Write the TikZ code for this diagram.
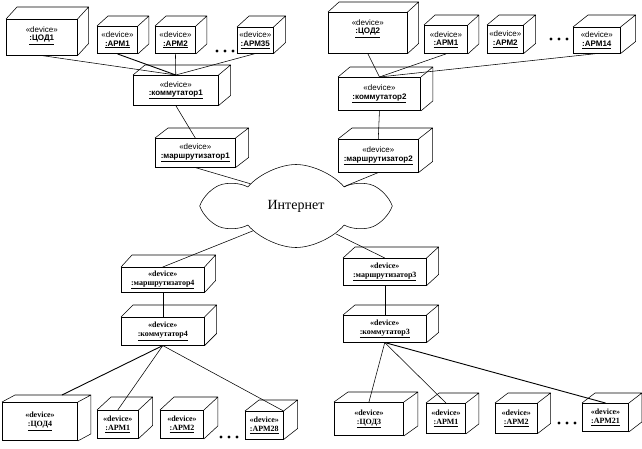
\documentclass[tikz,border=0pt]{standalone}
\usepackage{fontspec}
\setmainfont{Liberation Serif}
\setsansfont{Liberation Sans}
\usepackage{tikz}
\usetikzlibrary{
	positioning,
	shapes.symbols
}
\newcommand{\devlabel}[1]{«device»\\\underline{\textbf{#1}}}

\begin{document}
\begin{tikzpicture}[
		x=1pt, y=-1pt,
		line width=0.55pt,
		device/.style={
			draw,
			fill=white,
			anchor=north west,
			inner sep=0pt,
			align=center
		},
		topdev/.style={
			device,
			font=\sffamily\fontsize{8}{8.5}\selectfont
		},
		botdev/.style={
			device,
			font=\rmfamily\bfseries\fontsize{8}{9}\selectfont
		},
		toptext/.style={
			anchor=north,
			yshift=-4pt,
			align=center,
			font=\sffamily\fontsize{8}{8.5}\selectfont
		},
		heavy/.style={line width=0.9pt}
		]
		\useasboundingbox (0,0) rectangle (642,448);
		
		% Internet
		\node[cloud, draw, cloud puffs=6, cloud puff arc=100, aspect=2.1, inner sep=0pt,
		      minimum width=177pt, minimum height=83pt,
		      font=\rmfamily\fontsize{14}{16}\selectfont] (net) at (296,206) {Интернет};
		
		% Site 1
		\node[topdev, minimum width=71pt, minimum height=36pt,
		      label={[toptext]north:\devlabel{:ЦОД1}}] (cod1) at (6,19) {};
		\node[topdev, heavy, minimum width=40pt, minimum height=27pt] (arm1a) at (97,26) {\devlabel{:АРМ1}};
		\node[topdev, heavy, minimum width=40pt, minimum height=27pt] (arm2a) at (155,26) {\devlabel{:АРМ2}};
		\node[topdev, minimum width=36pt, minimum height=26pt] (arm35) at (237,27) {\devlabel{:АРМ35}};
		\node[topdev, minimum width=85pt, minimum height=30pt] (kom1) at (133,75) {\devlabel{:коммутатор1}};
		\node[topdev, minimum width=80pt, minimum height=29pt] (rt1) at (155,138) {\devlabel{:маршрутизатор1}};
		
		% Site 2
		\node[topdev, minimum width=79pt, minimum height=41pt,
		      label={[toptext]north:\devlabel{:ЦОД2}}] (cod2) at (328,12) {};
		\node[topdev, heavy, minimum width=43pt, minimum height=28pt] (arm1b) at (424,25) {\devlabel{:АРМ1}};
		\node[topdev, minimum width=36pt, minimum height=28pt] (arm2b) at (487,25) {\devlabel{:АРМ2}};
		\node[topdev, minimum width=47pt, minimum height=26pt] (arm14) at (573,27) {\devlabel{:АРМ14}};
		\node[topdev, heavy, minimum width=82pt, minimum height=33pt] (kom2) at (338,77) {\devlabel{:коммутатор2}};
		\node[topdev, minimum width=80pt, minimum height=33pt] (rt2) at (338,139) {\devlabel{:маршрутизатор2}};
		
		% Site 4
		\node[botdev, minimum width=83pt, minimum height=25pt] (rt4) at (121,267) {\devlabel{:маршрутизатор4}};
		\node[botdev, minimum width=83pt, minimum height=28pt] (kom4) at (121,317) {\devlabel{:коммутатор4}};
		\node[botdev, heavy, minimum width=75pt, minimum height=38pt] (cod4) at (2,402) {\devlabel{:ЦОД4}};
		\node[botdev, minimum width=41pt, minimum height=28pt] (arm1c) at (97,410) {\devlabel{:АРМ1}};
		\node[botdev, heavy, minimum width=43pt, minimum height=28pt] (arm2c) at (160,410) {\devlabel{:АРМ2}};
		\node[botdev, minimum width=38pt, minimum height=28pt] (arm28) at (245,411) {\devlabel{:АРМ28}};
		
		% Site 3
		\node[botdev, minimum width=83pt, minimum height=27pt] (rt3) at (343,258) {\devlabel{:маршрутизатор3}};
		\node[botdev, minimum width=83pt, minimum height=27pt] (kom3) at (343,315) {\devlabel{:коммутатор3}};
		\node[botdev, heavy, minimum width=69pt, minimum height=33pt] (cod3) at (334,402) {\devlabel{:ЦОД3}};
		\node[botdev, heavy, minimum width=39pt, minimum height=30pt] (arm1d) at (426,403) {\devlabel{:АРМ1}};
		\node[botdev, minimum width=42pt, minimum height=30pt] (arm2d) at (495,403) {\devlabel{:АРМ2}};
		\node[botdev, heavy, minimum width=46pt, minimum height=28pt] (arm21) at (582,403) {\devlabel{:АРМ21}};
		
		% Depth of the boxes
		\foreach \n/\dx/\dy in {cod1/11/12, arm1a/11/10, arm2a/11/10, arm35/12/11,
		                        kom1/12/10, rt1/13/10,
		                        cod2/11/10, arm1b/11/10, arm2b/12/10, arm14/15/12,
		                        kom2/12/10, rt2/14/11,
		                        rt4/11/12, kom4/12/12, cod4/13/7, arm1c/14/13,
		                        arm2c/14/13, arm28/14/11,
		                        rt3/12/11, kom3/12/10, cod3/14/10, arm1d/13/10,
		                        arm2d/13/10, arm21/13/10}
		\draw (\n.north west) -- ++(\dx,-\dy) -| ([shift={(\dx,-\dy)}]\n.south east) -- (\n.south east)
		      ([shift={(\dx,-\dy)}]\n.north east) -- (\n.north east);
		
		% Dots
		\foreach \x in {217,225,233} \fill (\x,51) circle (1.6pt);
		\foreach \x in {551,559,567} \fill (\x,39) circle (1.6pt);
		\foreach \x in {221,229,237} \fill (\x,437) circle (1.6pt);
		\foreach \x in {559,567,575} \fill (\x,423) circle (1.6pt);
		
		% Connections
		\draw (cod1.south) -- (kom1.north);
		\draw[heavy] (arm1a.south) -- (kom1.north);
		\draw (arm2a.south) -- (kom1.north);
		\draw (arm35.south) -- (kom1.north);
		\draw (kom1.south) -- (rt1.north);
		\draw (rt1.south) -- (net.154);
		
		\draw (cod2.south) -- (kom2.north);
		\draw (arm1b.south) -- (kom2.north);
		\draw (arm14.south) -- (kom2.north);
		\draw (kom2.south) -- (rt2.north);
		\draw (rt2.south) -- (net.22);
		
		\draw (net.210) -- (rt4.north);
		\draw (rt4.south) -- (kom4.north);
		\draw[heavy] (kom4.south) -- ([shift={(22,-7)}]cod4.north);
		\draw (kom4.south) -- (arm1c.north);
		\draw (kom4.south) -- (arm28.north east);
		
		\draw (net.325) -- (rt3.north);
		\draw (rt3.south) -- (kom3.north);
		\draw (kom3.south) -- (cod3.north);
		\draw (kom3.south) -- (arm1d.north);
		\draw[heavy] (kom3.south) -- (arm21.north);
		
	\end{tikzpicture}
\end{document}
